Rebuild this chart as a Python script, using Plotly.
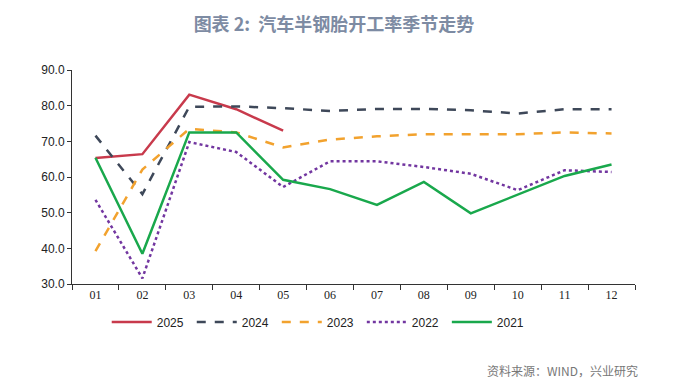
import plotly.graph_objects as go

months = ["01", "02", "03", "04", "05", "06", "07", "08", "09", "10", "11", "12"]
y2025 = [65.3, 66.4, 83.1, 79.0, 73.0]
y2024 = [71.6, 55.2, 79.7, 79.8, 79.3, 78.5, 79.1, 79.1, 78.7, 77.8, 79.0, 79.0]
y2023 = [39.2, 62.1, 73.5, 72.5, 68.3, 70.5, 71.4, 72.0, 72.0, 72.0, 72.5, 72.2]
y2022 = [53.6, 31.6, 69.8, 67.0, 57.2, 64.4, 64.4, 62.8, 60.9, 56.3, 61.9, 61.4]
y2021 = [65.4, 38.5, 72.5, 72.5, 59.2, 56.6, 52.2, 58.6, 49.8, 55.0, 60.3, 63.5]
y_ticks = [30, 40, 50, 60, 70, 80, 90]

series = [
    ("2025", y2025, "#C83A4C", "solid", 2.5),
    ("2024", y2024, "#3E4859", "dash", 2.5),
    ("2023", y2023, "#F2A22E", "dash", 2.5),
    ("2022", y2022, "#7236A0", "dot", 2.5),
    ("2021", y2021, "#19A84C", "solid", 2.5),
]

fig = go.Figure()
for name, vals, color, dash, w in series:
    fig.add_trace(go.Scatter(
        x=months[:len(vals)], y=vals, name=name + "\u00a0", mode="lines",
        line=dict(color=color, dash=dash, width=w),
    ))

fig.update_layout(
    width=682, height=379,
    margin=dict(l=64, r=55, t=62, b=103),
    paper_bgcolor="white", plot_bgcolor="white",
    font=dict(family="Liberation Sans, Arial, sans-serif", color="#222222", size=12),
    title=dict(text="<b>图表 2:  汽车半钢胎开工率季节走势</b>", x=0.478, xanchor="center",
               y=0.955, yanchor="middle",
               font=dict(size=18, color="#7D8BA3", family="Noto Sans CJK SC, sans-serif")),
    legend=dict(orientation="h", x=0.44, xanchor="center", y=-0.178, yanchor="middle",
                font=dict(size=12, color="#222222", family="Liberation Sans, Arial"),
                itemwidth=40, tracegroupgap=0),
    showlegend=True,
)
fig.update_xaxes(
    type="category", categoryorder="array", categoryarray=months, range=[-0.5, 11.5],
    showline=True, linecolor="#333333", linewidth=1,
    ticks="outside", tickson="boundaries", ticklen=5, tickcolor="#333333",
    showgrid=False, tickfont=dict(size=12, family="Liberation Serif, Times New Roman"),
)
fig.update_yaxes(
    range=[30, 90], tickvals=y_ticks, ticktext=[f"{v:.1f}" for v in y_ticks],
    showline=True, linecolor="#333333", linewidth=1, showgrid=False,
    ticks="outside", ticklen=4, tickcolor="#333333", zeroline=False,
    tickfont=dict(size=12, family="Liberation Sans, Arial"),
)
fig.add_annotation(text="资料来源：WIND，兴业研究", xref="paper", yref="paper",
                   x=0.733, y=-0.402, xanchor="left", yanchor="middle",
                   showarrow=False,
                   font=dict(size=12, color="#777777", family="Noto Sans CJK SC, sans-serif"))

fig.write_html("out.html")
